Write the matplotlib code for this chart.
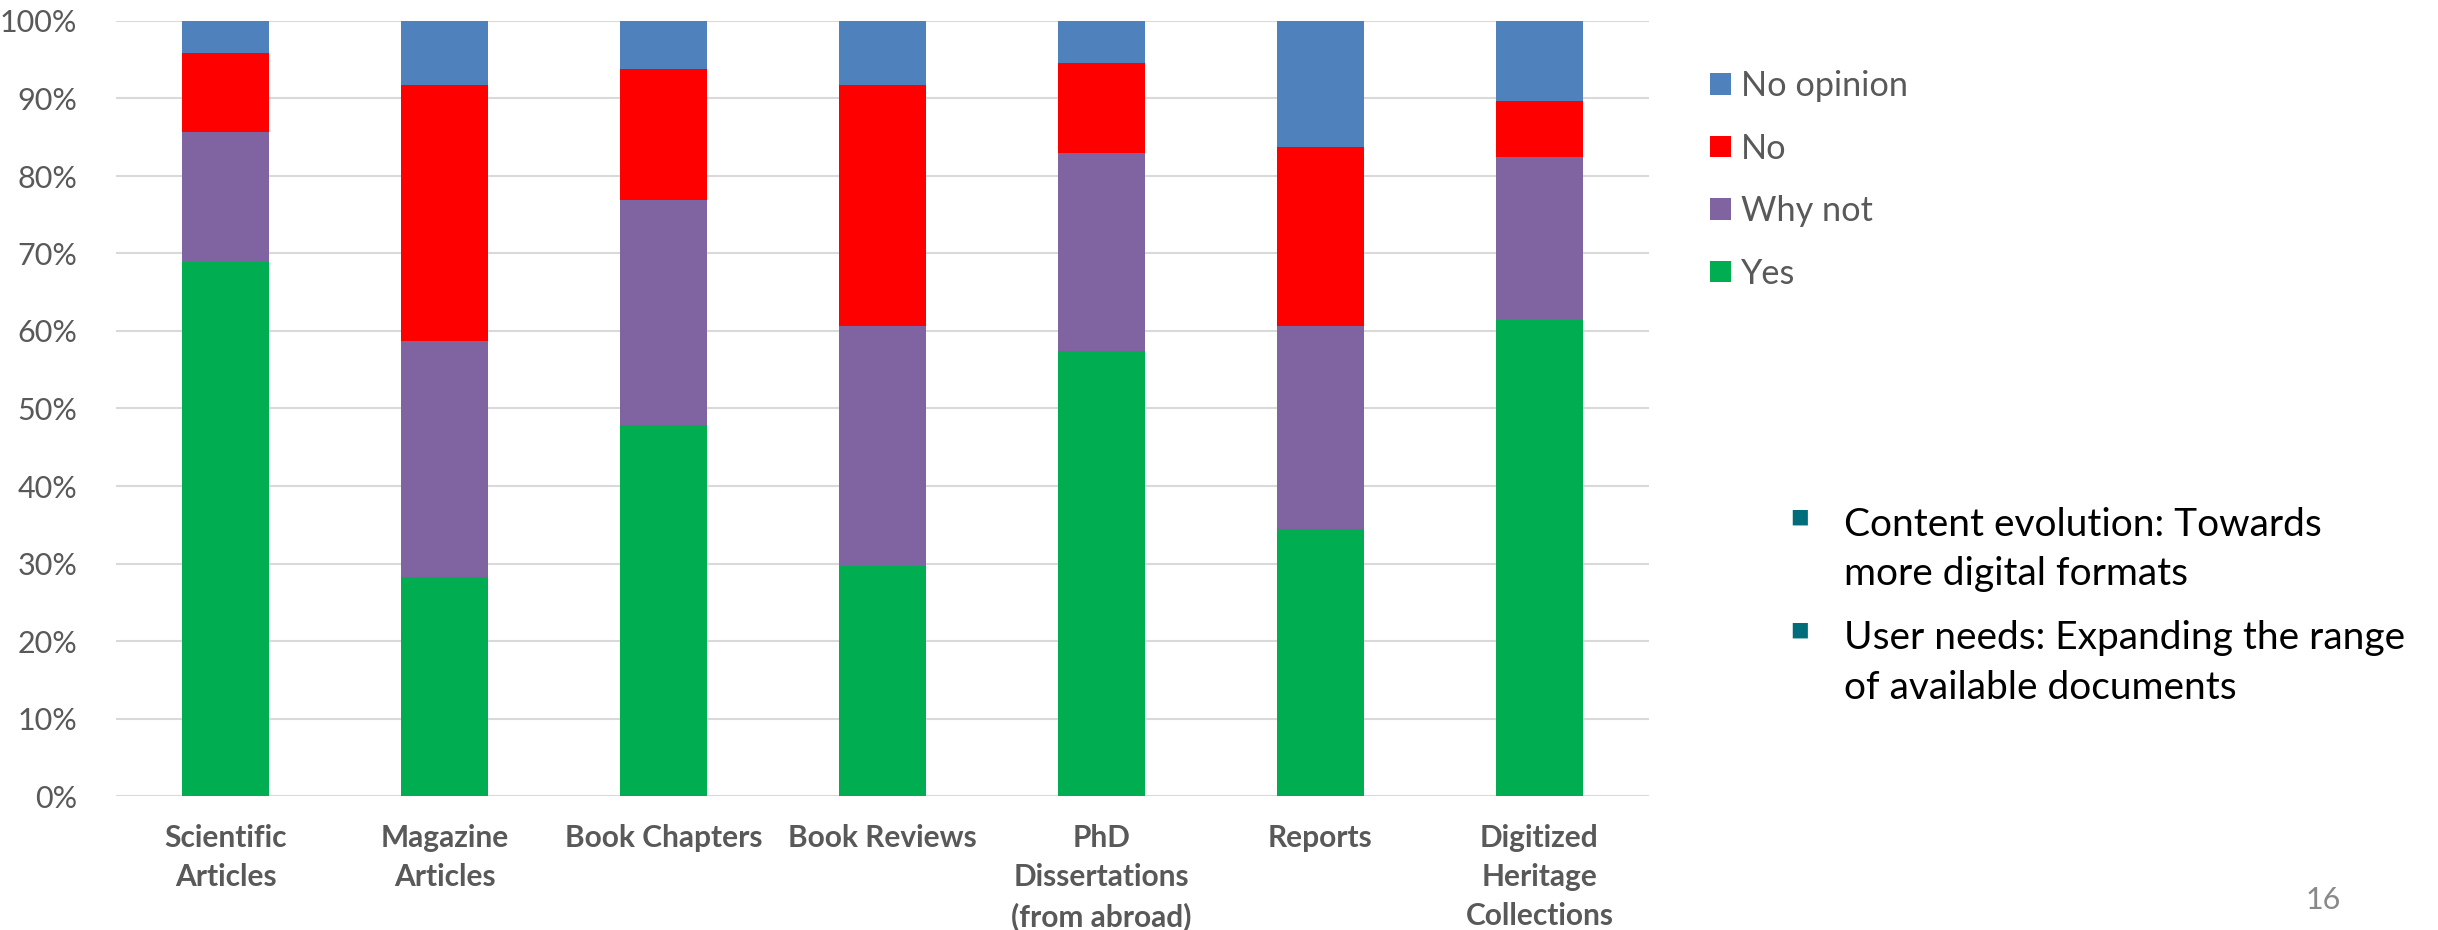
import numpy as np
import matplotlib
matplotlib.use('Agg')
import matplotlib.pyplot as plt

categories = ['Scientific\nArticles', 'Magazine\nArticles', 'Book Chapters', 'Book Reviews',
              'PhD\nDissertations\n(from abroad)', 'Reports', 'Digitized\nHeritage\nCollections']
# segment sizes, in %
yes = [68.9, 28.3, 47.9, 29.7, 57.4, 34.4, 61.4]
why_not = [16.8, 30.4, 29.0, 31.0, 25.6, 26.3, 21.0]
no = [10.2, 33.1, 16.9, 31.1, 11.6, 23.1, 7.3]
no_opinion = [4.1, 8.2, 6.2, 8.2, 5.4, 16.2, 10.3]

series = [('Yes', yes, '#00AD50'), ('Why not', why_not, '#8064A2'),
          ('No', no, '#FF0000'), ('No opinion', no_opinion, '#4F81BD')]

bullets = [['Content evolution: Towards', 'more digital formats'],
           ['User needs: Expanding the range', 'of available documents']]

plt.rcParams['font.family'] = ['Lato', 'DejaVu Sans']

fig = plt.figure(figsize=(24.38, 9.30), dpi=100)
ax = fig.add_axes([116/2438, 1-796/930, 1533/2438, 775/930])

x = np.arange(len(categories))
bottom = np.zeros(len(categories))
for name, vals, col in series:
    vals = np.array(vals) / 100.0
    ax.bar(x, vals, width=0.4, bottom=bottom, color=col, label=name, zorder=3)
    bottom += vals

ax.set_xlim(-0.5, len(categories) - 0.5)
ax.set_ylim(0, 1)
ax.set_yticks(np.arange(0, 1.01, 0.1))
ax.set_yticklabels(['%d%%' % v for v in range(0, 101, 10)], fontsize=22, color='#595959')
ax.set_xticks(x)
ax.set_xticklabels(categories, fontsize=21.5, fontweight='bold', color='#595959', linespacing=1.48)
ax.tick_params(axis='both', length=0)
ax.tick_params(axis='y', pad=28)
ax.tick_params(axis='x', pad=20)
ax.grid(axis='y', color='#D9D9D9', linewidth=1.5, zorder=0)
for s in ax.spines.values():
    s.set_visible(False)

h, l = ax.get_legend_handles_labels()
leg = fig.legend(h[::-1], l[::-1], loc='upper left', bbox_to_anchor=(1710/2438, 1-70/930),
                 frameon=False, fontsize=24.7, handlelength=0.6, handleheight=0.6,
                 handletextpad=0.3, labelspacing=0.89, borderpad=0, borderaxespad=0)
for t in leg.get_texts():
    t.set_color('#595959')

ys = [[525, 574], [638, 688]]
for lines, yy in zip(bullets, ys):
    fig.text(1800/2438, 1-(yy[0]-8)/930, '\u25AA', fontsize=22, color='#006E7A',
             ha='center', va='center', family='DejaVu Sans')
    for line, y in zip(lines, yy):
        fig.text(1844/2438, 1-y/930, line, fontsize=28, color='black', ha='left', va='center')

fig.text(2323/2438, 1-900/930, '16', fontsize=22, color='#898989', ha='center', va='center')

fig.savefig('out.png', dpi=100, facecolor='white')
